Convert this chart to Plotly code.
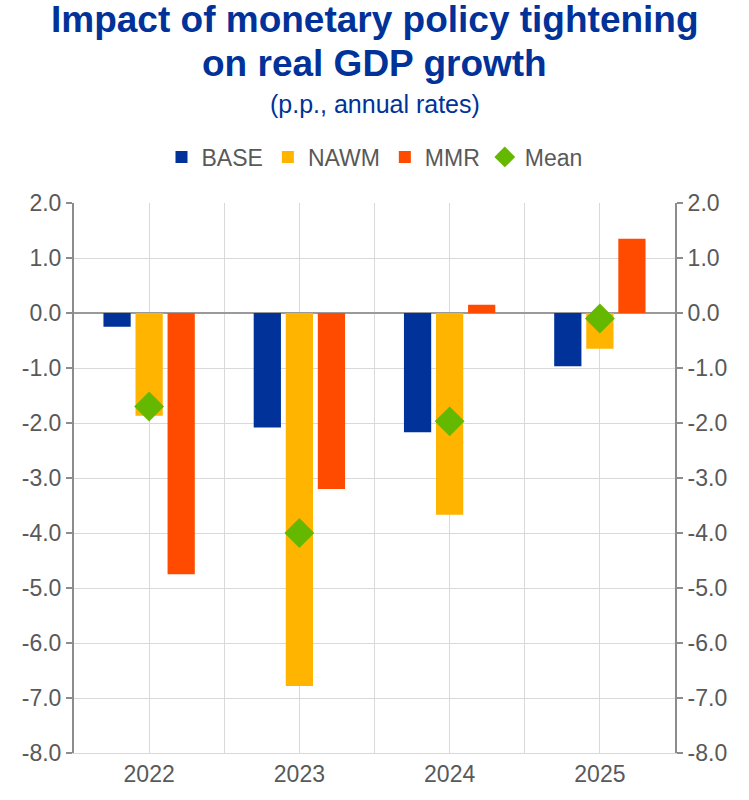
import plotly.graph_objects as go

# data (p.p., annual rates)
years = ["2022", "2023", "2024", "2025"]
base = [-0.25, -2.08, -2.17, -0.97]
nawm = [-1.87, -6.78, -3.67, -0.65]
mmr = [-4.75, -3.20, 0.15, 1.35]
mean = [-1.70, -4.00, -1.97, -0.10]

y_ticks = [2, 1, 0, -1, -2, -3, -4, -5, -6, -7, -8]

BLUE = "#003299"
GREY = "#595959"
FONT = "Liberation Sans, Arial, sans-serif"

fig = go.Figure()

fig.add_trace(go.Bar(x=years, y=base, name="BASE", marker=dict(color="#003299", line=dict(width=0))))
fig.add_trace(go.Bar(x=years, y=nawm, name="NAWM", marker=dict(color="#FFB400", line=dict(width=0))))
fig.add_trace(go.Bar(x=years, y=mmr, name="MMR", marker=dict(color="#FF4B00", line=dict(width=0))))
fig.add_trace(go.Scatter(
    x=years, y=mean, name="Mean", mode="markers",
    marker=dict(symbol="diamond", size=23, color="#65B800", line=dict(width=0)),
    xaxis="x2", yaxis="y2",
))

tick_text = [f"{v:.1f}" for v in y_ticks]
y_common = dict(
    range=[-8, 2],
    tickvals=y_ticks,
    ticktext=tick_text,
    showline=True,
    linecolor="#8c8c8c",
    linewidth=2,
    ticks="outside",
    ticklen=6,
    tickwidth=2,
    tickcolor="#8c8c8c",
    tickfont=dict(size=23, color=GREY),
)

# title lines as paper annotations (plot area spans 203..753 px)
titles = [
    ("<b>Impact of monetary policy tightening</b>", 37, 1.333),
    ("<b>on real GDP growth</b>", 37, 1.253),
    ("(p.p., annual rates)", 25, 1.180),
]
annotations = [
    dict(text=t, x=0.5, xref="paper", y=y, yref="paper", xanchor="center", yanchor="middle",
         showarrow=False, font=dict(size=s, color=BLUE, family=FONT))
    for t, s, y in titles
]

fig.update_layout(
    width=749,
    height=800,
    paper_bgcolor="white",
    plot_bgcolor="white",
    font=dict(family=FONT, color=GREY),
    margin=dict(l=74, r=74, t=203, b=47),
    annotations=annotations,
    barmode="group",
    bargap=0.36,
    bargroupgap=0.15,
    legend=dict(
        orientation="h",
        x=0.5, xanchor="center",
        y=1.0836, yanchor="middle",
        font=dict(size=23, color=GREY),
        itemwidth=30,
        traceorder="normal",
    ),
    xaxis=dict(
        type="category",
        showgrid=True,
        gridcolor="#d9d9d9",
        gridwidth=1,
        showline=True,
        linecolor="#d9d9d9",
        ticks="",
        tickfont=dict(size=23, color=GREY),
        range=[-0.5, 3.5],
        zeroline=False,
    ),
    xaxis2=dict(
        type="category",
        overlaying="x",
        matches="x",
        tickson="boundaries",
        showgrid=True,
        gridcolor="#d9d9d9",
        gridwidth=1,
        showticklabels=False,
        ticks="",
    ),
    yaxis=dict(
        **y_common,
        side="left",
        showgrid=True,
        gridcolor="#d9d9d9",
        gridwidth=1,
        zeroline=True,
        zerolinecolor="#9a9a9a",
        zerolinewidth=2,
    ),
    yaxis2=dict(
        **y_common,
        side="right",
        overlaying="y",
        matches="y",
        showgrid=False,
        zeroline=False,
    ),
)

fig.write_html(
    "out.html",
    config={"displayModeBar": False},
    post_script="document.body.style.margin='0';",
)
